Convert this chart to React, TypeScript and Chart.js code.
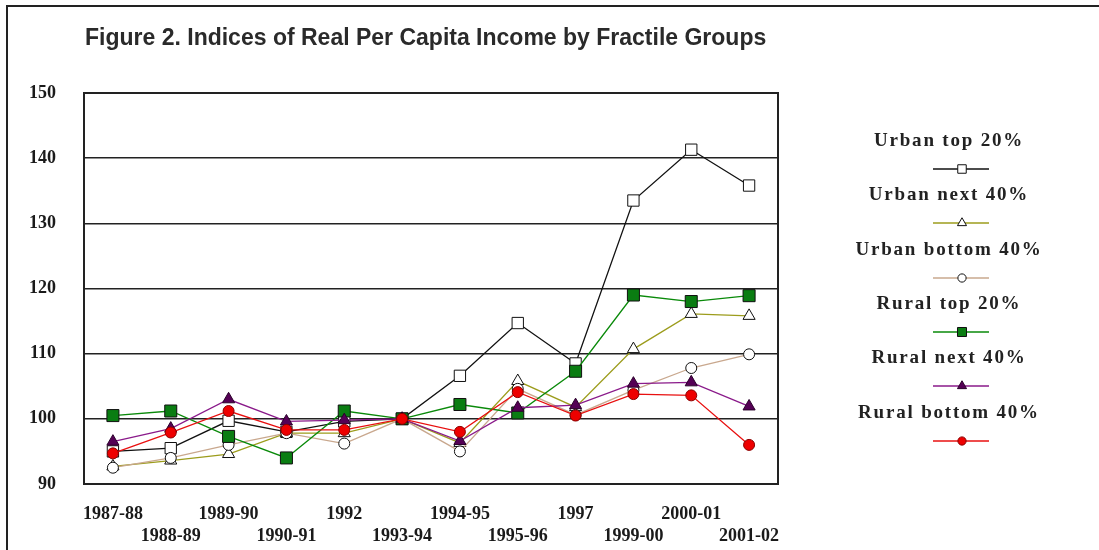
import React, { useEffect, useRef } from "react";
import { Chart, registerables } from "chart.js";

Chart.register(...registerables);

const TITLE = "Figure 2. Indices of Real Per Capita Income by Fractile Groups";

const categories = [
  "1987-88", "1988-89", "1989-90", "1990-91", "1992", "1993-94",
  "1994-95", "1995-96", "1997", "1999-00", "2000-01", "2001-02",
];

const urbanTop20 = [95.0, 95.5, 99.7, 98.0, 99.6, 100, 106.6, 114.7, 108.5, 133.5, 141.3, 135.8];
const urbanNext40 = [92.7, 93.6, 94.6, 97.8, 97.8, 100, 96.3, 105.8, 101.8, 110.7, 116.1, 115.8];
const urbanBottom40 = [92.5, 94.0, 96.0, 97.8, 96.2, 100, 95.0, 104.6, 100.6, 104.4, 107.8, 109.9];
const ruralTop20 = [100.5, 101.2, 97.3, 94.0, 101.2, 100, 102.2, 100.9, 107.3, 119.0, 118.0, 118.9];
const ruralNext40 = [96.5, 98.5, 103.0, 99.6, 99.8, 100, 96.6, 101.7, 102.1, 105.4, 105.6, 101.9];
const ruralBottom40 = [94.7, 97.9, 101.2, 98.3, 98.3, 100, 98.0, 104.1, 100.5, 103.8, 103.6, 96.0];

const yTicks = [90, 100, 110, 120, 130, 140, 150];

const seriesNames = [
  "Urban top 20%",
  "Urban next 40%",
  "Urban bottom 40%",
  "Rural top 20%",
  "Rural next 40%",
  "Rural bottom 40%",
];

const seriesStyles = [
  { line: "#111111", fill: "#ffffff", stroke: "#111111", shape: "rect", r: 8 },
  { line: "#9c9c1c", fill: "#ffffff", stroke: "#111111", shape: "triangle", r: 7 },
  { line: "#c9a88e", fill: "#ffffff", stroke: "#111111", shape: "circle", r: 5.5 },
  { line: "#0a8a0a", fill: "#0a7d12", stroke: "#111111", shape: "rect", r: 8.5 },
  { line: "#8a1a8a", fill: "#550055", stroke: "#2a002a", shape: "triangle", r: 7 },
  { line: "#e81010", fill: "#ee0000", stroke: "#8a0000", shape: "circle", r: 5.5 },
];

const seriesValues = [urbanTop20, urbanNext40, urbanBottom40, ruralTop20, ruralNext40, ruralBottom40];

function drawMarker(ctx: CanvasRenderingContext2D, shape: string, x: number, y: number, r: number, fill: string, stroke: string) {
  ctx.save();
  ctx.beginPath();
  if (shape === "rect") {
    const s = r * Math.SQRT1_2;
    ctx.rect(x - s, y - s, 2 * s, 2 * s);
  } else if (shape === "triangle") {
    const h = r * 1.5;
    const half = r * Math.sqrt(3) / 2;
    ctx.moveTo(x, y - r);
    ctx.lineTo(x + half, y - r + h);
    ctx.lineTo(x - half, y - r + h);
    ctx.closePath();
  } else {
    ctx.arc(x, y, r, 0, Math.PI * 2);
  }
  ctx.fillStyle = fill;
  ctx.fill();
  ctx.lineWidth = 1;
  ctx.strokeStyle = stroke;
  ctx.stroke();
  ctx.restore();
}

const decorPlugin = {
  id: "decor",
  beforeDatasetsDraw(chart: any) {
    const { ctx, chartArea } = chart;
    ctx.save();
    ctx.strokeStyle = "#222";
    ctx.lineWidth = 2;
    ctx.beginPath();
    ctx.moveTo(chartArea.left, chartArea.top);
    ctx.lineTo(chartArea.right, chartArea.top);
    ctx.lineTo(chartArea.right, chartArea.bottom);
    ctx.stroke();
    ctx.restore();
  },
  afterDraw(chart: any) {
    const { ctx } = chart;
    ctx.save();
    // outer frame
    ctx.strokeStyle = "#222";
    ctx.lineWidth = 2;
    ctx.beginPath();
    ctx.moveTo(7, 550);
    ctx.lineTo(7, 6);
    ctx.lineTo(1099, 6);
    ctx.stroke();
    // title
    ctx.fillStyle = "#2a2a2a";
    ctx.font = "bold 23px 'Liberation Sans', Arial, sans-serif";
    ctx.textAlign = "left";
    ctx.textBaseline = "alphabetic";
    ctx.fillText(TITLE, 85, 45);
    // legend
    const textYs = [141, 195, 250, 304, 358, 413];
    ctx.font = "bold 19px 'Liberation Serif', 'Times New Roman', serif";
    ctx.textAlign = "center";
    ctx.textBaseline = "middle";
    (ctx as any).letterSpacing = "1.8px";
    seriesNames.forEach((name, i) => {
      const st = seriesStyles[i];
      const ty = textYs[i];
      ctx.fillStyle = "#222";
      ctx.fillText(name, 949, ty);
      const ly = ty + 28;
      ctx.strokeStyle = st.line;
      ctx.lineWidth = 1.3;
      ctx.beginPath();
      ctx.moveTo(933, ly);
      ctx.lineTo(989, ly);
      ctx.stroke();
      drawMarker(ctx, st.shape, 962, ly, st.r * 0.75, st.fill, st.stroke);
    });
    ctx.restore();
  },
};

export default function App() {
  const canvasRef = useRef<HTMLCanvasElement | null>(null);

  useEffect(() => {
    const canvas = canvasRef.current;
    if (!canvas) return;
    const datasets = seriesNames.map((name, i) => ({
      label: name,
      data: seriesValues[i],
      borderColor: seriesStyles[i].line,
      borderWidth: 1.3,
      backgroundColor: seriesStyles[i].fill,
      pointBackgroundColor: seriesStyles[i].fill,
      pointBorderColor: seriesStyles[i].stroke,
      pointBorderWidth: 1,
      pointStyle: seriesStyles[i].shape,
      pointRadius: seriesStyles[i].r,
      pointHoverRadius: seriesStyles[i].r,
      tension: 0,
      fill: false,
      order: seriesNames.length - 1 - i,
    }));
    const chart = new Chart(canvas, {
      type: "line",
      data: { labels: categories, datasets },
      options: {
        responsive: false,
        animation: false,
        layout: { padding: { left: 0, top: 93, right: 321, bottom: 0 } },
        plugins: {
          legend: { display: false },
          title: { display: false },
          tooltip: { enabled: false },
        },
        scales: {
          x: {
            type: "category",
            offset: true,
            grid: { display: false, drawTicks: false },
            border: { display: true, color: "#222", width: 2 },
            ticks: {
              autoSkip: false,
              maxRotation: 0,
              minRotation: 0,
              padding: 19,
              color: "#1a1a1a",
              font: { family: "'Liberation Serif', 'Times New Roman', serif", size: 18, weight: "bold", lineHeight: "22px" },
              callback: (_v: any, i: number) => (i % 2 === 0 ? [categories[i], ""] : ["", categories[i]]),
            },
            afterFit: (s: any) => {
              s.height = 66;
            },
          },
          y: {
            min: 90,
            max: 150,
            afterBuildTicks: (s: any) => {
              s.ticks = yTicks.map((v) => ({ value: v }));
            },
            grid: { color: "#222", lineWidth: 1.6, drawTicks: false },
            border: { display: true, color: "#222", width: 2 },
            ticks: {
              padding: 28,
              color: "#1a1a1a",
              font: { family: "'Liberation Serif', 'Times New Roman', serif", size: 18, weight: "bold" },
            },
            afterFit: (s: any) => {
              s.width = 84;
            },
          },
        },
      },
      plugins: [decorPlugin],
    });
    return () => chart.destroy();
  }, []);

  return (
    <div style={{ position: "absolute", left: 0, top: 0, width: 1099, height: 550, background: "#fff" }}>
      <canvas ref={canvasRef} width={1099} height={550} style={{ display: "block" }} />
    </div>
  );
}
